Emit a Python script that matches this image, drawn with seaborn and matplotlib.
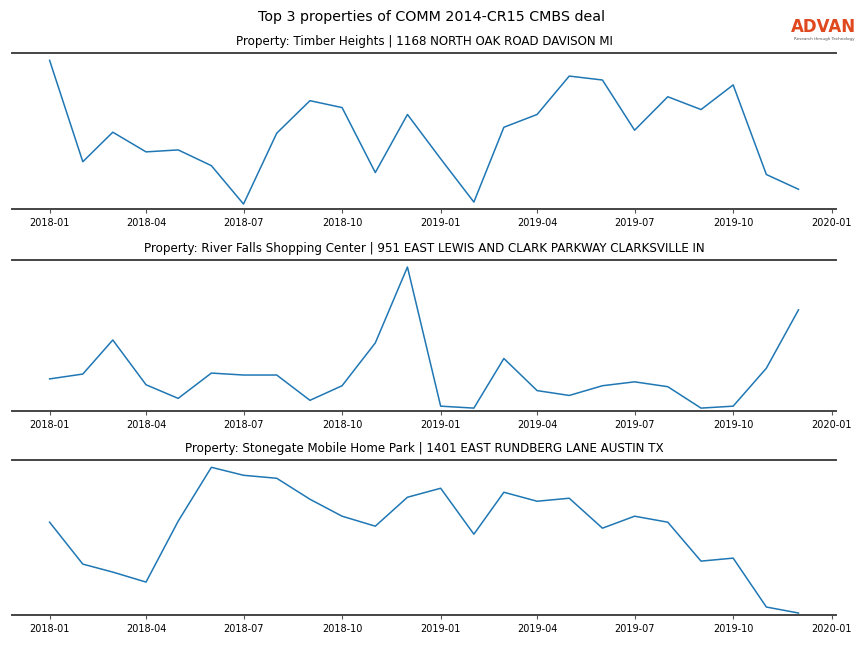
import pandas as pd
import numpy as np
import matplotlib
matplotlib.use('Agg')
import matplotlib.pyplot as plt
import matplotlib.dates as mdates
import seaborn as sns

months = pd.date_range('2018-01-01', '2019-12-01', freq='MS')

# monthly visits per property (arbitrary units)
timber_heights = [1510, 480, 780, 580, 600, 440, 50, 770, 1100, 1030,
                  370, 960, 510, 70, 830, 960, 1350, 1310, 800, 1140,
                  1010, 1260, 350, 200]
river_falls = [330, 380, 730, 270, 130, 390, 370, 370, 110, 260,
               700, 1480, 50, 30, 540, 210, 160, 260, 300, 250,
               30, 50, 440, 1040]
stonegate = [930, 510, 430, 330, 940, 1480, 1400, 1370, 1160, 990,
             890, 1180, 1270, 810, 1230, 1140, 1170, 870, 990, 930,
             540, 570, 80, 20]

titles = ['Property: Timber Heights | 1168 NORTH OAK ROAD DAVISON MI',
          'Property: River Falls Shopping Center | 951 EAST LEWIS AND CLARK PARKWAY CLARKSVILLE IN',
          'Property: Stonegate Mobile Home Park | 1401 EAST RUNDBERG LANE AUSTIN TX']
series = [timber_heights, river_falls, stonegate]

fig = plt.figure(figsize=(8.64, 6.48), dpi=100)
positions = [[0.014, 0.6775, 0.9536, 0.2405],
             [0.014, 0.3657, 0.9536, 0.2331],
             [0.014, 0.0509, 0.9536, 0.2392]]

for pos, title, vals in zip(positions, titles, series):
    ax = fig.add_axes(pos)
    df = pd.DataFrame({'month': months, 'visits': vals})
    sns.lineplot(data=df, x='month', y='visits', ax=ax, color='#1f77b4', linewidth=1.1)
    ax.set_ylim(bottom=0)
    ax.set_title(title, fontsize=8.6, pad=5.5)
    ax.set_xlabel('')
    ax.set_ylabel('')
    ax.set_yticks([])
    ax.spines['left'].set_visible(False)
    ax.spines['right'].set_visible(False)
    for s in ['top', 'bottom']:
        ax.spines[s].set_color('#444444')
        ax.spines[s].set_linewidth(1.4)
    ax.xaxis.set_major_locator(mdates.MonthLocator(bymonth=[1, 4, 7, 10]))
    ax.xaxis.set_major_formatter(mdates.DateFormatter('%Y-%m'))
    ax.tick_params(axis='x', labelsize=7, length=3, color='#555555')
    ax.set_xlim(pd.Timestamp('2017-11-27'), pd.Timestamp('2020-01-05'))

fig.suptitle('Top 3 properties of COMM 2014-CR15 CMBS deal', fontsize=10.3, y=0.985)

# logo
fig.text(0.9535, 0.958, 'ADVAN', color='#e0481e', fontsize=12, fontweight='bold',
         ha='center', va='center')
fig.text(0.9535, 0.940, 'Research through Technology', color='#555555', fontsize=3,
         ha='center', va='center')

fig.savefig('out.png', dpi=100)
